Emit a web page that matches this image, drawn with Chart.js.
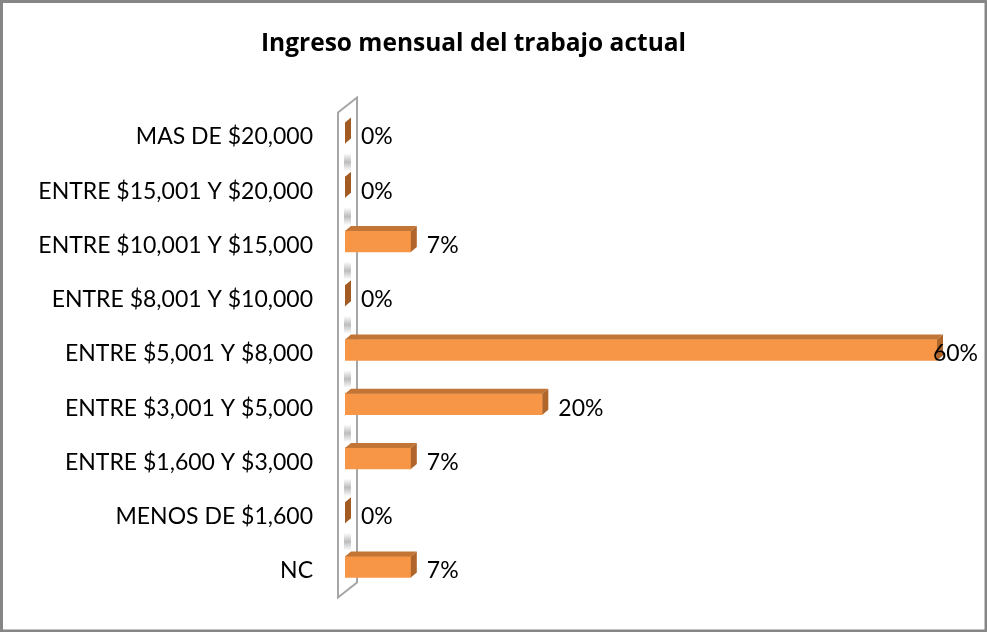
<!DOCTYPE html>
<html>
<head>
<meta charset="utf-8">
<script src="https://cdn.jsdelivr.net/npm/chart.js@4.4.0/dist/chart.umd.min.js"></script>
<style>
  html, body { margin: 0; padding: 0; background: #fff; }
  #wrap { width: 987px; height: 632px; }
</style>
</head>
<body>
<div id="wrap"><canvas id="ingresoChart" width="987" height="632"></canvas></div>
<script>
const categorias = [
  'MAS DE $20,000',
  'ENTRE $15,001 Y $20,000',
  'ENTRE $10,001 Y $15,000',
  'ENTRE $8,001 Y $10,000',
  'ENTRE $5,001 Y $8,000',
  'ENTRE $3,001 Y $5,000',
  'ENTRE $1,600 Y $3,000',
  'MENOS DE $1,600',
  'NC'
];
const porcentajes = [0, 0, 6.67, 0, 60, 20, 6.67, 0, 6.67];
const etiquetas = ['0%', '0%', '7%', '0%', '60%', '20%', '7%', '0%', '7%'];

const FUENTE = "Lato, 'Open Sans', sans-serif";
const FUENTE_TITULO = "'Open Sans', Lato, sans-serif";
const DX = 6, DY = 5;

// borde del grafico + pared 3D detras de las barras
const paredPlugin = {
  id: 'pared',
  beforeDraw(chart) {
    const c = chart.ctx;
    c.save();
    c.fillStyle = '#fff';
    c.fillRect(0, 0, chart.width, chart.height);
    c.strokeStyle = '#868686';
    c.lineWidth = 3;
    c.strokeRect(1.5, 1.5, chart.width - 2.5, chart.height - 2.5);
    c.restore();
  },
  beforeDatasetsDraw(chart) {
    const c = chart.ctx;
    const a = chart.chartArea;
    const xl = a.left - 7, xr = a.left + 12;
    c.save();
    // sombras de las lineas de division sobre la pared
    for (let i = 0; i <= categorias.length; i++) {
      const yb = a.top + i * (a.bottom - a.top) / categorias.length + 2;
      if (yb < a.top + 8 || yb > a.bottom) continue;
      const g = c.createLinearGradient(0, yb - 9, 0, yb + 9);
      g.addColorStop(0, 'rgba(160,160,160,0)');
      g.addColorStop(0.5, 'rgba(160,160,160,0.7)');
      g.addColorStop(1, 'rgba(160,160,160,0)');
      c.fillStyle = g;
      c.fillRect(a.left - 1, yb - 9, 7, 18);
    }
    c.strokeStyle = '#a6a6a6';
    c.lineWidth = 2;
    c.beginPath();
    c.moveTo(xl, a.top + 6.5);
    c.lineTo(xr, a.top - 8.5);
    c.lineTo(xr, a.bottom - 11.5);
    c.lineTo(xl, a.bottom + 3.5);
    c.closePath();
    c.stroke();
    c.restore();
  },
  afterDatasetsDraw(chart) {
    const c = chart.ctx;
    const meta = chart.getDatasetMeta(0);
    c.save();
    meta.data.forEach((bar, i) => {
      const x0 = bar.base, x1 = bar.x;
      const yt = bar.y - bar.height / 2, yb = bar.y + bar.height / 2;
      // cara superior
      if (x1 > x0) {
        c.fillStyle = '#c27535';
        c.beginPath();
        c.moveTo(x0, yt);
        c.lineTo(x1, yt);
        c.lineTo(x1 + DX, yt - DY);
        c.lineTo(x0 + DX, yt - DY);
        c.closePath();
        c.fill();
      }
      // cara lateral
      c.fillStyle = x1 > x0 ? '#b0652b' : '#a35b24';
      c.beginPath();
      c.moveTo(x1, yt);
      c.lineTo(x1 + DX, yt - DY);
      c.lineTo(x1 + DX, yb - DY);
      c.lineTo(x1, yb);
      c.closePath();
      c.fill();

      // etiqueta de datos
      c.font = '23px ' + FUENTE;
      c.fillStyle = '#000';
      c.textBaseline = 'middle';
      c.textAlign = 'left';
      const w = c.measureText(etiquetas[i]).width;
      let lx = x1 + DX + 10;
      if (lx + w > chart.width - 9) lx = chart.width - 9 - w;
      c.fillText(etiquetas[i], lx, bar.y + 4);
    });
    c.restore();
  }
};

const ctx = document.getElementById('ingresoChart').getContext('2d');
new Chart(ctx, {
  type: 'bar',
  data: {
    labels: categorias,
    datasets: [{
      data: porcentajes,
      backgroundColor: '#f79646',
      borderWidth: 0,
      barThickness: 21
    }]
  },
  options: {
    indexAxis: 'y',
    responsive: false,
    animation: false,
    layout: { padding: { left: 10, right: 50, top: 10, bottom: 38 } },
    plugins: {
      legend: { display: false },
      tooltip: { enabled: false },
      title: {
        display: true,
        text: 'Ingreso mensual del trabajo actual',
        color: '#000',
        font: { family: FUENTE_TITULO, size: 24.5, weight: 'bold', lineHeight: 1.1 },
        padding: { top: 20.5, bottom: 48.5 }
      }
    },
    scales: {
      x: { display: false, min: 0, max: 60 },
      y: {
        grid: { display: false, drawTicks: false },
        border: { display: false },
        afterFit(scale) {
          scale.width = 335;
          scale.paddingTop = 0;
          scale.paddingBottom = 0;
        },
        ticks: {
          padding: 32,
          labelOffset: 4,
          color: '#000',
          font: { family: FUENTE, size: 23 }
        }
      }
    }
  },
  plugins: [paredPlugin]
});
</script>
</body>
</html>
